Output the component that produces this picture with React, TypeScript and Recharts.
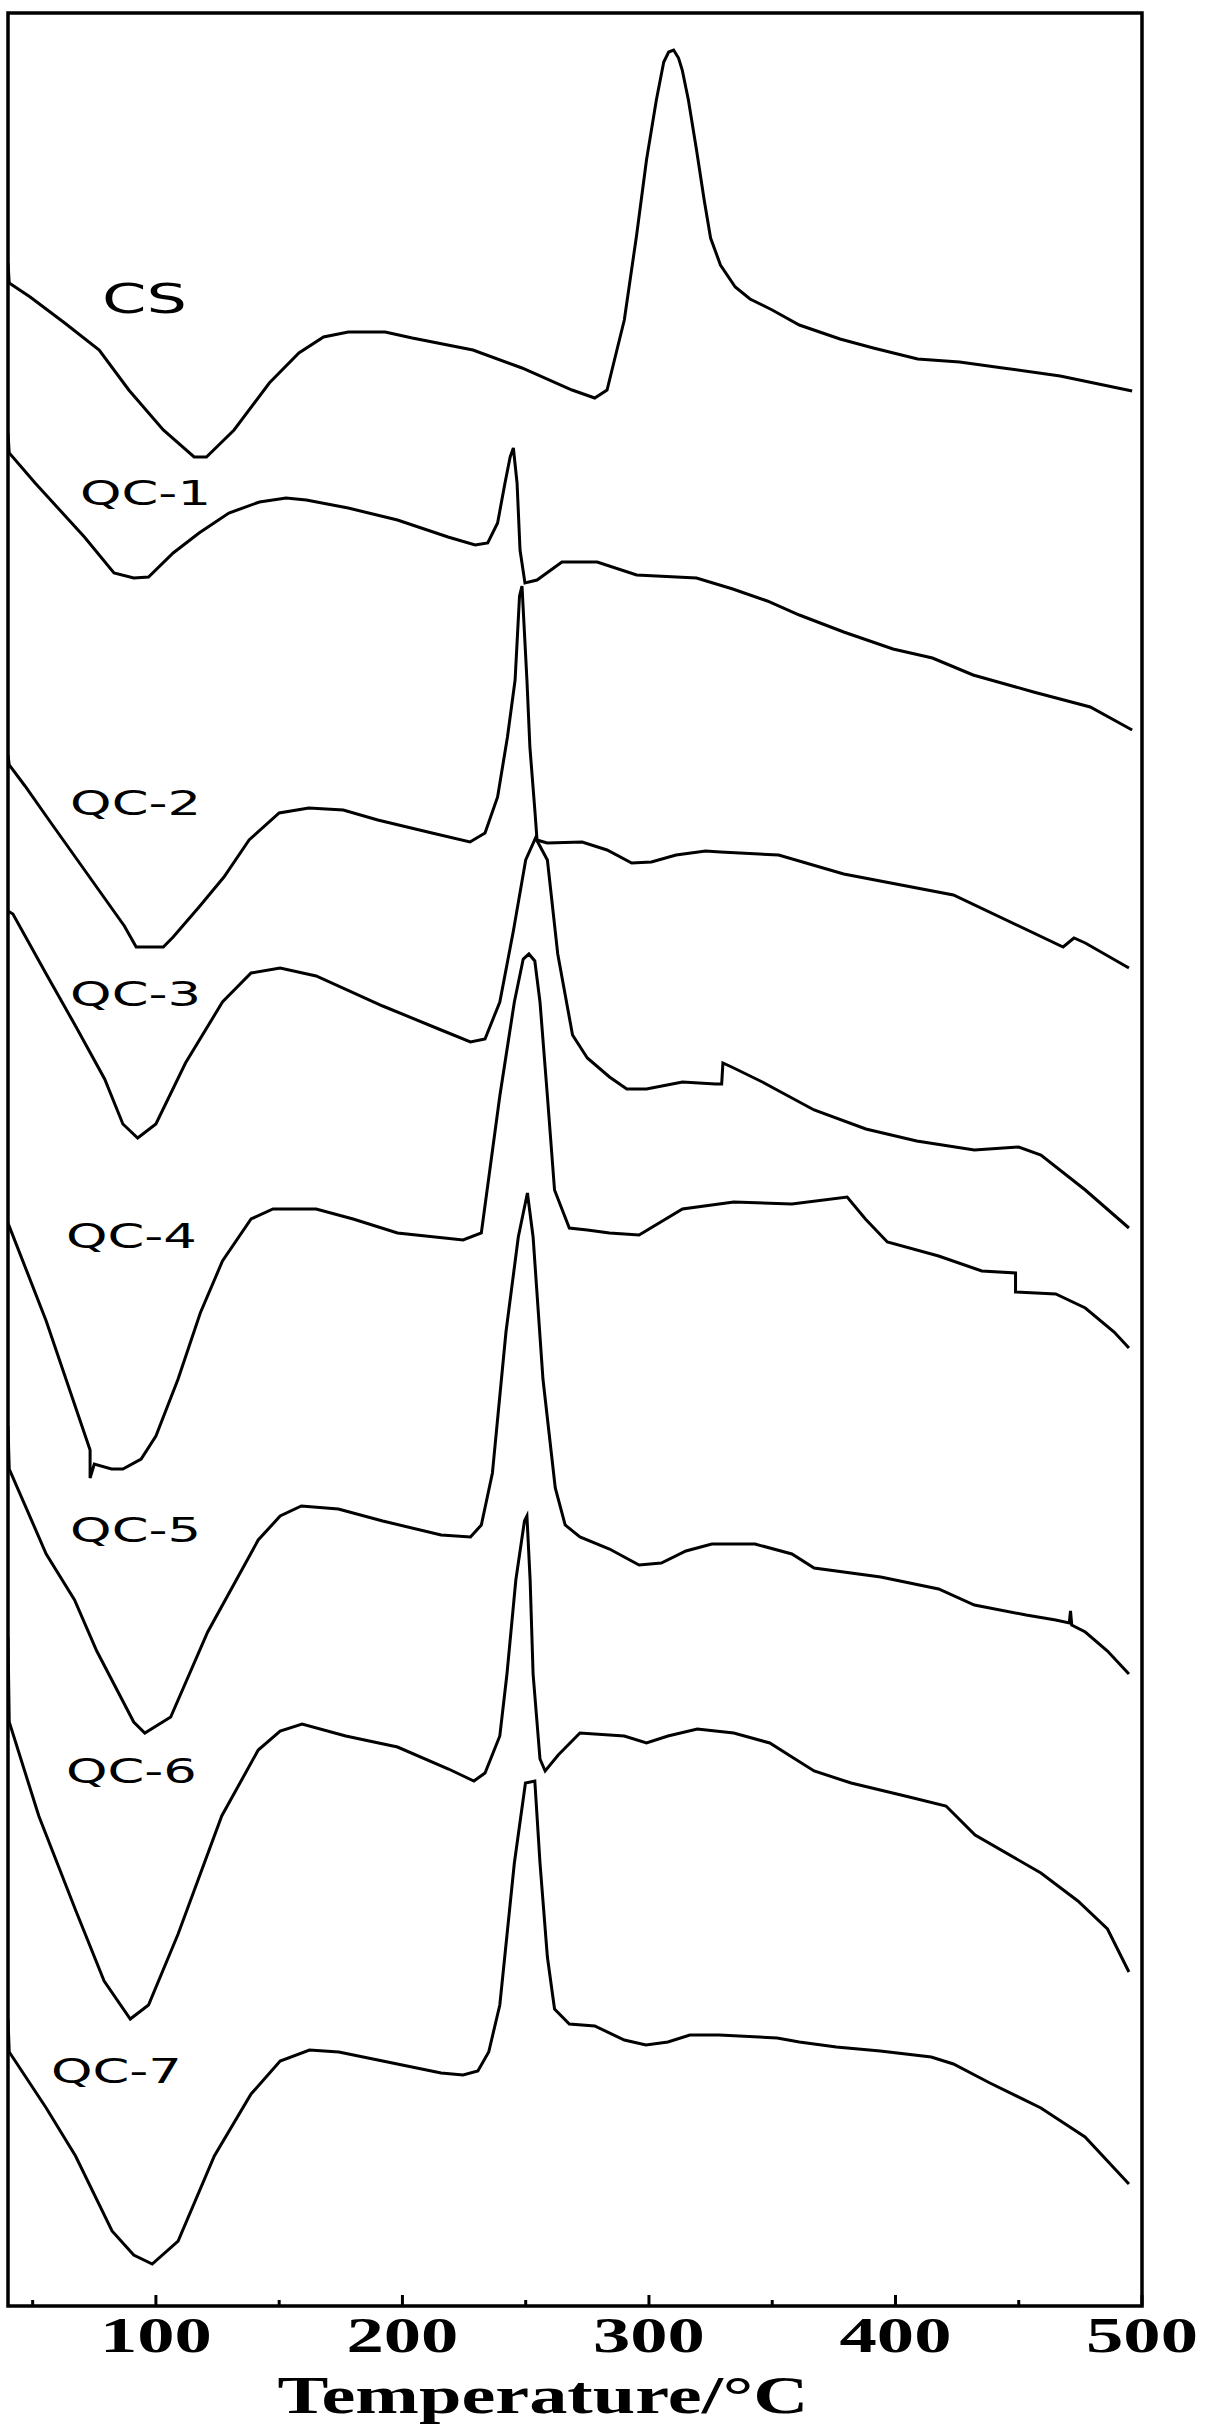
import { LineChart, Line, XAxis, YAxis, ReferenceArea, ReferenceDot } from 'recharts'

// DSC traces, stacked with an offset (heat flow, arbitrary units)
const tempTicks = [50, 100, 150, 200, 250, 300, 350, 400, 450, 500]
const labelledTicks = [100, 200, 300, 400, 500]

const cs = [
  [40, 204.3], [40.5, 202.3], [49, 200.9], [63, 198.3], [77, 195.6], [89, 191.6], [103, 187.6],
  [115.5, 184.9], [120.5, 184.9], [131.7, 187.6], [146, 192.3], [158, 195.3], [168, 196.9],
  [178, 197.4], [193, 197.4], [204, 196.8], [228.6, 195.6], [248.5, 193.8], [268.8, 191.6],
  [278, 190.8], [283, 191.6], [287, 195.6], [290, 198.6], [295, 207.1], [299, 214.6], [303, 220.6],
  [306, 224.4], [308, 225.4], [310, 225.6], [312, 224.8], [313.5, 223.6], [316, 220.6],
  [319.3, 215.6], [322.4, 210.6], [325, 206.8], [329, 204.1], [335, 201.9], [341, 200.7],
  [350, 199.6], [361, 198.1], [377.5, 196.7], [391, 195.8], [409, 194.7], [426, 194.4],
  [443.6, 193.8], [466.8, 193.0], [496, 191.5],
]

const qc1 = [
  [40, 187.3], [40.5, 185.3], [51, 182.3], [61, 179.6], [71, 176.9], [83, 173.3], [91, 172.8],
  [97, 172.9], [107, 175.3], [117.5, 177.3], [129.6, 179.3], [142, 180.4], [152.8, 180.8],
  [161, 180.6], [178, 179.8], [198, 178.6], [218.5, 176.9], [229.5, 176.1], [234.6, 176.3],
  [238.6, 178.3], [241.6, 182.3], [243.7, 184.9], [245, 185.8], [246.5, 182.3], [247.7, 175.6],
  [249.7, 172.3], [254.6, 172.6], [264.7, 174.4], [279, 174.4], [295, 173.1], [319.3, 172.8],
  [334, 171.7], [348, 170.5], [361, 169.1], [379, 167.4], [399, 165.7], [415, 164.8],
  [431.5, 163.1], [456, 161.4], [479, 159.9], [496, 157.6],
]

const qc2 = [
  [40, 155.1], [40.5, 154.1], [46.9, 152.0], [56.9, 148.5], [67, 145.0], [77.1, 141.5],
  [87.2, 138.0], [92, 135.9], [103, 135.9], [107, 136.9], [117.5, 139.9], [127.6, 142.9],
  [137.8, 146.6], [150, 149.3], [162, 149.8], [176, 149.6], [190, 148.6], [212, 147.3],
  [227.4, 146.4], [233.5, 147.3], [238.6, 150.9], [242.6, 156.9], [245.7, 162.6], [247.5, 171.0],
  [248.5, 172.0], [250.5, 162.6], [251.7, 155.9], [253.8, 149.3], [254.6, 146.6], [258.7, 146.3],
  [272.9, 146.4], [283, 145.6], [293, 144.3], [301, 144.4], [311, 145.1], [323, 145.5],
  [329, 145.4], [352.6, 145.1], [379, 143.2], [423.5, 141.1], [468, 135.9], [472.4, 136.8],
  [477, 136.3], [494.7, 133.8],
]

const qc3 = [
  [40, 139.5], [42, 139.2], [55.5, 133.2], [67.4, 128.0], [79.2, 122.7], [86.6, 118.2],
  [92.6, 116.8], [100, 118.2], [112, 124.3], [127, 130.4], [138.6, 133.3], [150.4, 133.8],
  [165, 133.0], [192, 130.0], [215.7, 127.6], [227.6, 126.4], [233.5, 126.7], [239.5, 130.4],
  [245, 137.5], [250, 144.6], [254, 146.8], [258.8, 144.6], [263, 135.2], [269, 127.1],
  [275, 124.8], [284, 122.9], [291, 121.7], [299, 121.7], [313.6, 122.4], [327, 122.2],
  [329.5, 122.2], [330, 124.3], [334.4, 123.8], [346, 122.4], [367, 119.6], [388, 117.7],
  [408.6, 116.5], [432, 115.6], [450, 115.9], [459, 115.1], [477, 111.6], [494.7, 107.8],
]

const qc4 = [
  [40, 108.3], [55.5, 98.5], [73.3, 85.6], [73.3, 82.8], [75, 84.2], [82, 83.7], [86.6, 83.7],
  [94, 84.7], [100, 87.0], [109, 92.7], [118, 99.3], [127, 104.5], [138.6, 108.7], [147.5, 109.7],
  [165, 109.7], [180, 108.7], [198, 107.3], [224.6, 106.6], [232, 107.3], [239.5, 121.0],
  [245.4, 130.4], [249, 134.7], [251.3, 135.2], [253.7, 134.5], [255.8, 130.4], [258.8, 121.0],
  [261.7, 111.6], [267.7, 107.8], [275, 107.6], [284, 107.3], [296, 107.1], [313.6, 109.7],
  [334.4, 110.4], [358, 110.2], [380.4, 110.9], [387.8, 108.7], [396.7, 106.4], [417.5, 105.0],
  [435, 103.5], [448.7, 103.3], [448.7, 101.4], [465, 101.2], [477, 99.8], [488.7, 97.4],
  [494.7, 95.8],
]

const qc5 = [
  [40, 88.0], [40.5, 83.7], [55.5, 75.2], [67, 70.6], [76, 65.5], [91, 58.4], [95.5, 57.3],
  [106, 58.9], [121, 67.4], [132.6, 72.6], [141.5, 76.6], [150.4, 79.0], [159, 80.0], [174, 79.7],
  [192, 78.5], [215.7, 77.1], [227.6, 76.9], [232, 78.1], [236.5, 83.3], [242, 97.4],
  [247, 106.9], [250.7, 111.3], [253, 106.9], [257, 92.7], [262, 81.8], [266, 78.1], [272, 76.9],
  [284, 75.7], [296, 74.1], [305, 74.3], [315, 75.5], [325.5, 76.2], [343, 76.2], [358, 75.2],
  [367, 73.8], [394, 72.9], [417.5, 71.7], [432, 70.1], [453, 69.1], [465, 68.6], [470.5, 68.3],
  [471, 69.5], [471.5, 68.1], [477, 67.4], [486, 65.5], [494.7, 63.2],
]

const qc6 = [
  [40, 66.9], [40.5, 58.4], [52.5, 49.0], [67.4, 39.6], [79, 32.5], [89.6, 28.7], [97, 30.1],
  [109, 37.2], [126.7, 49.0], [141.5, 55.6], [150.4, 57.5], [159.3, 58.2], [177, 57.0],
  [198, 55.9], [218.7, 53.7], [229, 52.5], [233.5, 53.3], [239.5, 57.0], [242.4, 63.2],
  [246, 72.6], [249.5, 78.5], [250.5, 79.0], [251.8, 72.6], [253, 63.2], [255.8, 54.7],
  [257.9, 53.5], [263.2, 55.1], [272, 57.3], [290, 57.0], [299, 56.3], [307.7, 57.0],
  [319.6, 57.7], [334.4, 57.3], [349, 56.3], [358, 54.9], [367, 53.5], [382, 52.3],
  [405.6, 50.9], [420.5, 50.0], [432.3, 47.1], [459, 43.3], [474, 40.5], [486, 37.7],
  [494.7, 33.4],
]

const qc7 = [
  [40, 28.7], [40.5, 25.4], [55.5, 19.8], [67.4, 15.0], [82.2, 7.5], [91, 5.1], [98.5, 4.2],
  [109, 6.5], [123.7, 15.0], [138.6, 21.2], [150.4, 24.5], [162.3, 25.6], [174.2, 25.4],
  [192, 24.5], [215.7, 23.3], [224.6, 23.1], [230.6, 23.5], [235, 25.4], [239.5, 30.1],
  [245.4, 44.3], [249.9, 52.3], [253.7, 52.5], [255.8, 44.3], [258.8, 34.9], [261.7, 29.7],
  [267.7, 28.2], [278, 28.0], [290, 26.6], [298.8, 26.1], [307.7, 26.4], [316.6, 27.1],
  [328.5, 27.1], [352, 26.8], [361, 26.4], [376, 25.9], [393.8, 25.5], [414.5, 24.9],
  [423.5, 24.2], [438.3, 22.3], [459, 19.8], [476.9, 16.9], [494.7, 12.2],
]

const curveNames = ['CS', 'QC-1', 'QC-2', 'QC-3', 'QC-4', 'QC-5', 'QC-6', 'QC-7']
const curvePoints = [cs, qc1, qc2, qc3, qc4, qc5, qc6, qc7]
// where each curve name sits (temperature, signal level of the text baseline)
const labelTemps = [78.1, 69.2, 65.2, 65.2, 63.5, 65.2, 63.5, 57.4]
const labelLevels = [199.3, 180.1, 149.1, 130.0, 105.8, 76.4, 52.3, 22.3]

const series = curveNames.map((name, i) => ({
  name,
  data: curvePoints[i].map(([t, v]) => ({ t, v })),
}))

const serif = "'Liberation Serif', 'Times New Roman', serif"

function TempTick(props: any) {
  const { x, y, payload } = props
  const major = labelledTicks.includes(payload.value)
  return (
    <g>
      <line x1={x} x2={x} y1={y} y2={y - (major ? 11 : 6)} stroke="#000" strokeWidth={3} />
      {major && (
        <text
          x={x}
          y={y + 46}
          textAnchor="middle"
          fontFamily={serif}
          fontWeight="bold"
          fontSize={50}
          fill="#000"
          textLength={112}
          lengthAdjust="spacingAndGlyphs"
        >
          {payload.value}
        </text>
      )}
    </g>
  )
}

function AxisTitle(props: any) {
  const vb = props.viewBox || { x: 8, y: 2306, width: 1134 }
  return (
    <text
      x={vb.x + vb.width * 0.4718}
      y={vb.y + 107}
      textAnchor="middle"
      fontFamily={serif}
      fontWeight="bold"
      fontSize={53}
      fill="#000"
      textLength={531}
      lengthAdjust="spacingAndGlyphs"
    >
      Temperature/°C
    </text>
  )
}

function CurveName(name: string) {
  return (p: any) => (
    <text
      x={p.cx}
      y={p.cy}
      fontFamily="'DejaVu Sans', Verdana, sans-serif"
      fontSize={name === 'CS' ? 41 : 34}
      fill="#000"
      textLength={name === 'CS' ? 85 : 131}
      lengthAdjust="spacingAndGlyphs"
    >
      {name}
    </text>
  )
}

export default function App() {
  return (
    <div style={{ position: 'absolute', left: 0, top: 0, width: 1208, height: 2431, background: '#fff' }}>
      <LineChart width={1208} height={2431} margin={{ top: 13, right: 66, bottom: 0, left: 8 }}>
        <XAxis
          type="number"
          dataKey="t"
          domain={[40, 500]}
          allowDataOverflow
          ticks={tempTicks}
          interval={0}
          height={125}
          tickSize={0}
          tickMargin={0}
          axisLine={false}
          tickLine={false}
          tick={<TempTick />}
          label={<AxisTitle />}
        />
        <YAxis type="number" domain={[0, 229.3]} allowDataOverflow hide width={0} />
        <ReferenceArea x1={40} x2={500} y1={0} y2={229.3} fill="none" stroke="#000" strokeWidth={3.5} />
        {series.map((s) => (
          <Line
            key={s.name}
            data={s.data}
            dataKey="v"
            name={s.name}
            type="linear"
            stroke="#000"
            strokeWidth={3}
            dot={false}
            activeDot={false}
            isAnimationActive={false}
          />
        ))}
        {curveNames.map((name, i) => (
          <ReferenceDot
            key={name}
            x={labelTemps[i]}
            y={labelLevels[i]}
            r={0}
            shape={CurveName(name)}
          />
        ))}
      </LineChart>
    </div>
  )
}
